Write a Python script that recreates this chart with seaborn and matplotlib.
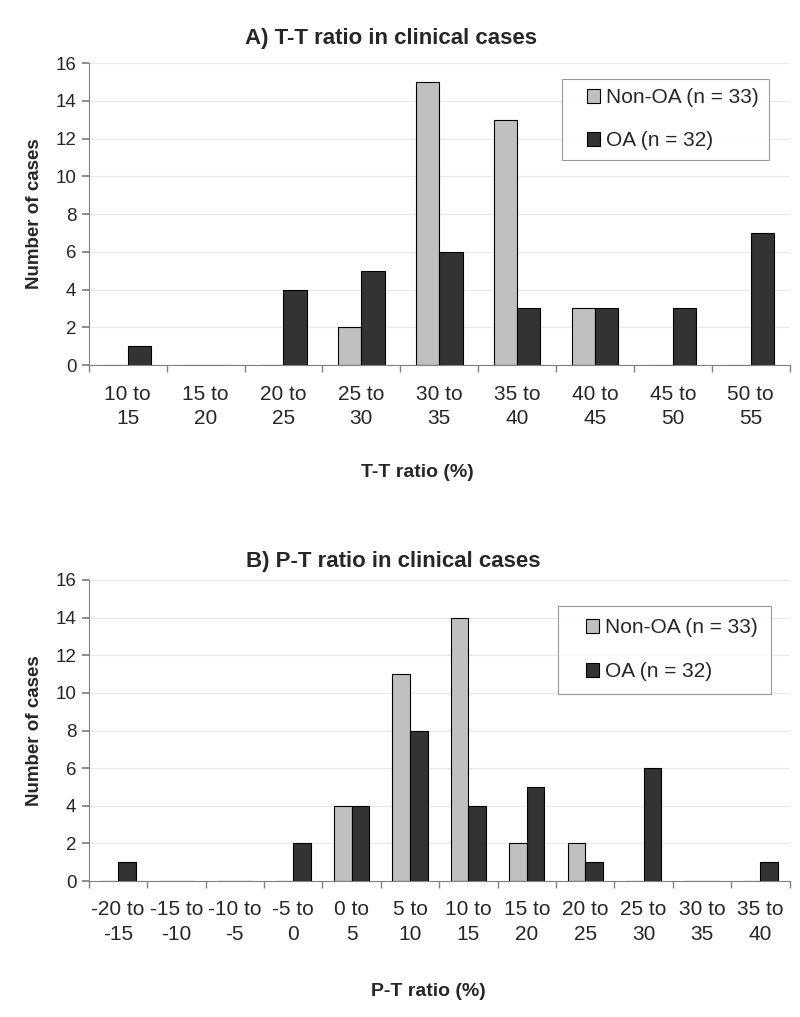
import matplotlib
matplotlib.use("Agg")
import matplotlib.pyplot as plt
import matplotlib.patches as mpatches
from matplotlib.legend_handler import HandlerPatch
import seaborn as sns
import pandas as pd
import numpy as np

sns.set_theme(style="white")
plt.rcParams['font.family'] = ['Liberation Sans', 'DejaVu Sans']

# ---- data ----
cats_a = ["10 to\n15", "15 to\n20", "20 to\n25", "25 to\n30", "30 to\n35",
          "35 to\n40", "40 to\n45", "45 to\n50", "50 to\n55"]
nonoa_a = [0, 0, 0, 2, 15, 13, 3, 0, 0]
oa_a = [1, 0, 4, 5, 6, 3, 3, 3, 7]

cats_b = ["-20 to\n-15", "-15 to\n-10", "-10 to\n-5", "-5 to\n0", "0 to\n5",
          "5 to\n10", "10 to\n15", "15 to\n20", "20 to\n25", "25 to\n30",
          "30 to\n35", "35 to\n40"]
nonoa_b = [0, 0, 0, 0, 4, 11, 14, 2, 2, 0, 0, 0]
oa_b = [1, 0, 0, 2, 4, 8, 4, 5, 1, 6, 0, 1]

series_names = ["Non-OA (n = 33)", "OA (n = 32)"]
titles = ["A) T-T ratio in clinical cases", "B) P-T ratio in clinical cases"]
xlabels = ["T-T ratio (%)", "P-T ratio (%)"]
ylabel = "Number of cases"

palette = {series_names[0]: "#c0c0c0", series_names[1]: "#333333"}


def square_right(legend, orig_handle, xdescent, ydescent, width, height, fontsize):
    s = height
    return mpatches.Rectangle((-xdescent + width - s, -ydescent), s, s)


fig = plt.figure(figsize=(8, 10.17), dpi=100)
ax_a = fig.add_axes([0.111, 0.641, 0.876, 0.297])
ax_b = fig.add_axes([0.111, 0.1337, 0.876, 0.296])

def draw(ax, cats, s1, s2, title, xlabel, title_pad, title_x, xlabel_pad, xlabel_x,
         leg_anchor, leg_pad, leg_space):
    df = pd.DataFrame({
        "cat": cats * 2,
        "val": s1 + s2,
        "series": [series_names[0]] * len(cats) + [series_names[1]] * len(cats),
    })
    sns.barplot(data=df, x="cat", y="val", hue="series", order=cats,
                hue_order=series_names, palette=palette, width=0.6, gap=0,
                edgecolor="black", linewidth=0.8, ax=ax, saturation=1)
    n = len(cats)
    ax.set_xlim(-0.5, n - 0.5)
    ax.set_ylim(0, 16)
    ax.set_yticks(np.arange(0, 17, 2))
    ax.yaxis.grid(True, color="#e8e8e8", linewidth=0.8)
    ax.set_axisbelow(True)
    for s in ["top", "right"]:
        ax.spines[s].set_visible(False)
    for s in ["left", "bottom"]:
        ax.spines[s].set_color("#808080")
        ax.spines[s].set_linewidth(0.8)
    ax.set_xticks(np.arange(-0.5, n, 1.0), minor=True)
    ax.tick_params(axis="x", which="major", length=0, pad=14, labelsize=15)
    ax.tick_params(axis="x", which="minor", length=5, color="#808080", bottom=True)
    ax.tick_params(axis="y", length=5, color="#808080", labelsize=13.5, left=True, pad=4)
    for lbl in ax.get_xticklabels():
        lbl.set_linespacing(1.35)
    ax.set_title(title, fontsize=16, fontweight="bold", pad=title_pad, x=title_x)
    ax.set_xlabel(xlabel, fontsize=14, fontweight="bold", labelpad=xlabel_pad, x=xlabel_x)
    ax.set_ylabel(ylabel, fontsize=13.5, fontweight="bold", labelpad=9)
    handles, labels = ax.get_legend_handles_labels()
    leg = ax.legend(handles, labels, loc="upper right", bbox_to_anchor=leg_anchor,
                    fontsize=15, frameon=True, fancybox=False,
                    handlelength=1.4, handleheight=0.6, handletextpad=0.3,
                    labelspacing=leg_space, borderpad=leg_pad, borderaxespad=0,
                    handler_map={mpatches.Rectangle: HandlerPatch(patch_func=square_right)})
    leg.get_frame().set_edgecolor("#808080")
    leg.get_frame().set_linewidth(0.8)

draw(ax_a, cats_a, nonoa_a, oa_a, titles[0], xlabels[0], 14, 0.431, 26, 0.469,
     (0.97, 0.947), 0.45, 1.15)
draw(ax_b, cats_b, nonoa_b, oa_b, titles[1], xlabels[1], 9, 0.434, 28, 0.485,
     (0.973, 0.914), 0.6, 1.2)

fig.savefig("out.png", dpi=100, facecolor="white")
